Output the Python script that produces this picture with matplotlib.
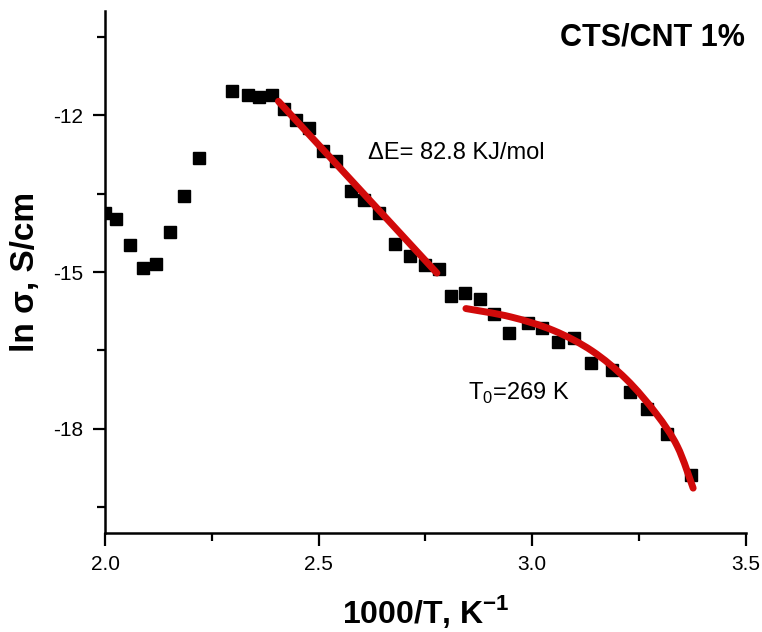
import matplotlib
matplotlib.use("Agg")
import matplotlib.pyplot as plt
from matplotlib.ticker import FixedLocator
from matplotlib.path import Path
from matplotlib.patches import PathPatch

plt.rcParams['font.family'] = ['Liberation Sans', 'DejaVu Sans']
plt.rcParams['mathtext.fontset'] = 'custom'
plt.rcParams['mathtext.rm'] = 'Liberation Sans'
plt.rcParams['mathtext.bf'] = 'Liberation Sans:bold'

# Measured data: 1000/T (K^-1) and ln sigma (S/cm)
inv_T = [2.000, 2.026, 2.059, 2.089, 2.120, 2.153, 2.186, 2.221,
         2.297, 2.334, 2.361, 2.390, 2.419, 2.448, 2.478, 2.510,
         2.541, 2.575, 2.606, 2.642, 2.678, 2.714, 2.750, 2.782,
         2.811, 2.843, 2.878, 2.910, 2.946, 2.990, 3.024, 3.061,
         3.099, 3.138, 3.188, 3.230, 3.269, 3.315, 3.371]
ln_sigma = [-13.86, -13.99, -14.49, -14.93, -14.84, -14.24, -13.54, -12.81,
            -11.54, -11.61, -11.65, -11.61, -11.87, -12.08, -12.24, -12.69,
            -12.88, -13.45, -13.62, -13.87, -14.46, -14.70, -14.86, -14.95,
            -15.45, -15.40, -15.51, -15.81, -16.17, -15.97, -16.08, -16.35,
            -16.27, -16.74, -16.87, -17.30, -17.63, -18.10, -18.89]

# Arrhenius fit line
fit1_x = [2.406, 2.777]
fit1_y = [-11.73, -15.02]

# VFT fit curve (anchor points)
fit2_x = [2.845, 2.950, 3.050, 3.140, 3.220, 3.290, 3.340, 3.377]
fit2_y = [-15.70, -15.86, -16.12, -16.51, -17.05, -17.71, -18.34, -19.14]

x_major = [2.0, 2.5, 3.0, 3.5]
x_minor = [2.25, 2.75, 3.25]
y_major = [-12, -15, -18]
y_minor = [-10.5, -13.5, -16.5, -19.5]

RED = '#d10a0a'

fig = plt.figure(figsize=(7.62, 6.32), dpi=100)
ax = fig.add_axes([0.1378, 0.1566, 0.8408, 0.826])

ax.plot(inv_T, ln_sigma, 's', color='black', markersize=8, zorder=2)
ax.plot(fit1_x, fit1_y, '-', color=RED, lw=5, solid_capstyle='round', zorder=3)

# smooth curve through the anchor points (Catmull-Rom as cubic Bezier, display space)
pts = ax.transData.transform(list(zip(fit2_x, fit2_y)))
ax_inv = ax.transData.inverted()
verts = [pts[0]]
codes = [Path.MOVETO]
n = len(pts)
for i in range(n - 1):
    p0 = pts[i - 1] if i > 0 else pts[i]
    p1 = pts[i]
    p2 = pts[i + 1]
    p3 = pts[i + 2] if i + 2 < n else pts[i + 1]
    c1 = p1 + (p2 - p0) / 6.0
    c2 = p2 - (p3 - p1) / 6.0
    verts += [c1, c2, p2]
    codes += [Path.CURVE4] * 3
verts = ax_inv.transform(verts)
ax.add_patch(PathPatch(Path(verts, codes), facecolor='none', edgecolor=RED, lw=5,
                       capstyle='round', joinstyle='round', zorder=3))

ax.set_xlim(2.0, 3.5)
ax.set_ylim(-20, -10)
ax.xaxis.set_major_locator(FixedLocator(x_major))
ax.xaxis.set_minor_locator(FixedLocator(x_minor))
ax.yaxis.set_major_locator(FixedLocator(y_major))
ax.yaxis.set_minor_locator(FixedLocator(y_minor))
ax.set_xticklabels(['2.0', '2.5', '3.0', '3.5'])
ax.set_yticklabels(['-12', '-15', '-18'])

for s in ['top', 'right']:
    ax.spines[s].set_visible(False)
for s in ['left', 'bottom']:
    ax.spines[s].set_linewidth(1.8)

ax.tick_params(axis='both', which='major', direction='out', length=9, width=1.6,
               labelsize=15, pad=7)
ax.tick_params(axis='both', which='minor', direction='out', length=6, width=1.6)

ax.set_xlabel('1000/T, K$^{\\mathbf{-1}}$', fontsize=23, fontweight='bold')
ax.set_ylabel('ln σ, S/cm', fontsize=24, fontweight='bold')
ax.xaxis.set_label_coords(0.5, -0.115)
ax.yaxis.set_label_coords(-0.1, 0.5)

ax.text(0.998, 0.950, 'CTS/CNT 1%', transform=ax.transAxes, ha='right', va='center',
        fontsize=22, fontweight='bold')
ax.text(2.616, -12.72, 'ΔE= 82.8 KJ/mol', ha='left', va='center', fontsize=17)
ax.text(2.85, -17.33, 'T$_0$=269 K', ha='left', va='center', fontsize=17)

fig.savefig('out.png', dpi=100)
